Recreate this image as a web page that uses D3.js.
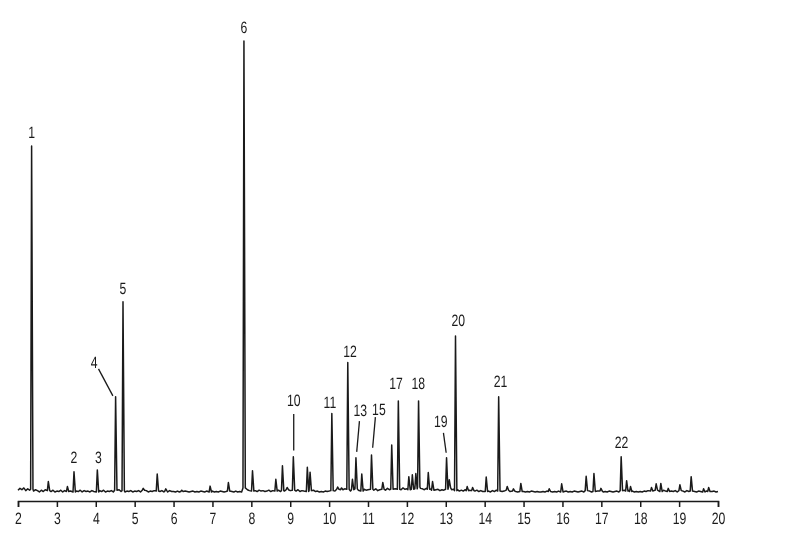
<!DOCTYPE html>
<html>
<head>
<meta charset="utf-8">
<script src="https://cdn.jsdelivr.net/npm/d3@7"></script>
<style>
	body { margin: 0; background: #fff; }
	svg { filter: grayscale(1); }
	.lbl, .tick text { font-family: "Liberation Sans", Arial, sans-serif; font-size: 16.5px; fill: #1a1a1a; text-rendering: geometricPrecision; }
</style>
</head>
<body>
<div class="g-chart-container"></div>
<script>
// retention time (min) and height (% of peak 6) of every spike on the trace
var peakTimes = [2.35, 2.78, 3.27, 3.44, 4.04, 4.51, 4.70, 5.22, 5.58, 5.80, 6.21, 6.94, 7.41, 7.81,
	8.03, 8.63, 8.80, 8.92, 9.08, 9.44, 9.51, 10.07, 10.22, 10.32, 10.48, 10.60, 10.69, 10.84,
	11.09, 11.38, 11.61, 11.78, 12.05, 12.14, 12.23, 12.30, 12.55, 12.66, 13.02, 13.09, 13.25,
	13.55, 13.69, 14.04, 14.36, 14.58, 14.74, 14.93, 15.66, 15.98, 16.61, 16.81, 16.99, 17.51,
	17.65, 17.75, 18.29, 18.41, 18.53, 18.72, 19.02, 19.31, 19.63, 19.76];
var peakHeights = [76.7, 2.3, 1.2, 4.5, 4.9, 21.1, 42.2, 0.8, 4.0, 0.7, 0.4, 1.3, 2.1, 100,
	4.7, 2.8, 5.8, 1.0, 7.8, 5.5, 4.4, 17.4, 1.1, 0.9, 28.7, 2.8, 7.6, 4.0,
	8.2, 2.1, 10.4, 20.2, 3.4, 3.8, 4.1, 20.2, 4.3, 2.3, 7.6, 2.7, 34.6,
	1.2, 1.0, 3.3, 21.1, 1.2, 0.7, 1.9, 0.7, 1.8, 3.5, 4.1, 0.8, 7.8,
	2.5, 1.2, 1.0, 1.8, 1.9, 0.8, 1.6, 3.4, 0.7, 1.0];

// baseline noise, one reading every 0.05 min from 2.0 to 20.0
var baselineStart = 2, baselineStep = 0.05;
var baseline = [
	0.4,0.8,0.5,0.9,0.3,0.7,0.4,0.6,0.2,0.5,0.3,0.0,0.4,0.1,0.5,0.0,0.3,0.1,0.4,0.0,
	0.2,0.1,0.4,0.0,0.3,0.1,0.5,0.2,0.3,0.0,0.2,0.1,0.4,0.0,0.3,0.1,0.2,0.0,0.3,0.1,
	0.2,0.0,0.3,0.1,0.4,0.0,0.2,0.1,0.3,0.0,0.4,0.2,0.5,0.1,0.3,0.0,0.2,0.1,0.3,0.0,
	0.2,0.1,0.3,0.0,0.4,0.2,0.3,0.0,0.2,0.1,0.3,0.0,0.2,0.1,0.3,0.0,0.2,0.0,0.3,0.1,
	0.1,0.0,0.2,0.0,0.1,0.0,0.2,0.1,0.0,0.1,0.2,0.0,0.1,0.0,0.2,0.1,0.0,0.2,0.1,0.0,
	0.2,0.0,0.1,0.0,0.2,0.1,0.0,0.1,0.2,0.0,0.1,0.0,0.2,0.0,0.1,0.0,0.9,0.6,0.5,0.3,
	0.4,0.2,0.3,0.1,0.4,0.2,0.3,0.1,0.2,0.4,0.1,0.3,0.5,0.2,0.4,0.1,0.3,0.2,0.5,0.1,
	0.3,0.1,0.4,0.2,0.5,0.1,0.3,0.2,0.4,0.1,0.3,0.0,0.4,0.1,0.2,0.0,0.1,0.0,0.2,0.1,
	0.2,0.3,0.5,0.2,0.6,0.3,0.5,0.4,0.7,0.3,0.6,0.2,0.5,0.3,0.7,0.4,0.5,0.2,0.6,0.4,
	0.5,0.3,0.6,0.4,0.7,0.3,0.5,0.2,0.6,0.4,0.8,0.5,0.6,0.3,0.7,0.4,0.6,0.5,0.9,0.6,
	0.7,0.5,0.9,0.6,1.0,0.7,1.1,0.8,0.7,0.5,0.8,0.6,0.7,0.4,0.8,0.5,0.6,0.3,0.5,0.4,
	0.6,0.8,0.9,0.5,0.6,0.3,0.5,0.2,0.4,0.2,0.5,0.3,0.4,0.1,0.3,0.2,0.4,0.1,0.3,0.1,
	0.3,0.1,0.2,0.0,0.3,0.1,0.4,0.2,0.3,0.1,0.2,0.0,0.4,0.1,0.3,0.2,0.1,0.0,0.2,0.1,
	0.1,0.0,0.1,0.0,0.2,0.1,0.0,0.1,0.0,0.0,0.1,0.0,0.2,0.1,0.0,0.0,0.1,0.0,0.2,0.0,
	0.0,0.1,0.2,0.0,0.1,0.0,0.2,0.1,0.0,0.1,0.2,0.0,0.3,0.1,0.2,0.0,0.1,0.0,0.2,0.1,
	0.2,0.0,0.1,0.0,0.2,0.1,0.0,0.1,0.2,0.0,0.3,0.1,0.4,0.2,0.3,0.1,0.2,0.0,0.1,0.0,
	0.1,0.0,0.2,0.1,0.3,0.0,0.2,0.3,0.4,0.2,0.3,0.1,0.4,0.2,0.1,0.0,0.2,0.1,0.3,0.0,
	0.3,0.1,0.2,0.0,0.3,0.1,0.2,0.0,0.1,0.0,0.2,0.1,0.3,0.0,0.2,0.1,0.0,0.1,0.2,0.0,
	0.1];

// numbered peaks: label anchor (time, signal level of text baseline)
var peakLabels = [
	{name: "1", t: 2.35, y: 78.4},
	{name: "2", t: 3.44, y: 6.4},
	{name: "3", t: 4.07, y: 6.4},
	{name: "4", t: 3.96, y: 27.6},
	{name: "5", t: 4.70, y: 43.9},
	{name: "6", t: 7.81, y: 101.7},
	{name: "10", t: 9.09, y: 19.1},
	{name: "11", t: 10.02, y: 18.6},
	{name: "12", t: 10.54, y: 30.0},
	{name: "13", t: 10.80, y: 16.9},
	{name: "15", t: 11.28, y: 17.1},
	{name: "17", t: 11.72, y: 22.8},
	{name: "18", t: 12.29, y: 22.8},
	{name: "19", t: 12.87, y: 14.3},
	{name: "20", t: 13.32, y: 36.7},
	{name: "21", t: 14.41, y: 23.3},
	{name: "22", t: 17.52, y: 9.7}
];
// leader lines from label to peak
var leaders = [
	{from: [4.07, 27.3], to: [4.44, 21.3]},
	{from: [9.09, 17.3], to: [9.09, 9.2]},
	{from: [10.78, 15.7], to: [10.71, 8.9]},
	{from: [11.19, 16.6], to: [11.12, 9.8]},
	{from: [12.94, 13.1], to: [13.01, 8.7]}
];
var xTicks = d3.range(2, 21);

var W = 789, H = 554;
var narrow = 0.74; // squeeze text to look like a condensed face

var svg = d3.select(".g-chart-container")
	.append("svg")
	.attr("width", W)
	.attr("height", H);

var x = d3.scaleLinear().domain([2, 20]).range([18, 718]);
var y = d3.scaleLinear().domain([-2, 100]).range([501, 41]);

// build the trace: baseline readings plus a spike for each peak
function baseAt(t) {
	var i = Math.round((t - baselineStart) / baselineStep);
	return baseline[Math.max(0, Math.min(baseline.length - 1, i))];
}
var trace = [];
baseline.forEach(function(v, i) {
	var t = baselineStart + i * baselineStep;
	var near = peakTimes.some(function(p) { return Math.abs(p - t) < 0.045; });
	if (!near) trace.push([t, v]);
});
peakTimes.forEach(function(p, i) {
	var b = baseAt(p);
	trace.push([p - 0.025, b]);
	trace.push([p, peakHeights[i]]);
	trace.push([p + 0.035, b]);
});
trace.sort(function(a, b) { return a[0] - b[0]; });

var line = d3.line()
	.x(function(d) { return x(d[0]); })
	.y(function(d) { return y(d[1]); });

svg.append("path")
	.datum(trace)
	.attr("d", line)
	.attr("fill", "none")
	.attr("stroke", "#1a1a1a")
	.attr("stroke-width", 1.5)
	.attr("stroke-linejoin", "round");

// x axis
var axis = svg.append("g")
	.attr("transform", "translate(0," + y(-2) + ")")
	.call(d3.axisBottom(x).tickValues(xTicks).tickSize(6).tickFormat(d3.format("d")));
axis.attr("font-size", null).attr("font-family", null);
axis.selectAll("path, line").attr("stroke", "#1a1a1a").attr("stroke-width", 1.5);
axis.selectAll("text")
	.attr("y", null).attr("dy", null)
	.attr("fill", "#1a1a1a")
	.attr("transform", "translate(0,23) scale(" + narrow + ",1)");

// leaders
svg.selectAll(".leader")
	.data(leaders)
	.enter()
	.append("line")
	.attr("class", "leader")
	.attr("x1", function(d) { return x(d.from[0]); })
	.attr("y1", function(d) { return y(d.from[1]); })
	.attr("x2", function(d) { return x(d.to[0]); })
	.attr("y2", function(d) { return y(d.to[1]); })
	.attr("stroke", "#1a1a1a")
	.attr("stroke-width", 1.3);

// peak numbers
svg.selectAll(".lbl")
	.data(peakLabels)
	.enter()
	.append("text")
	.attr("class", "lbl")
	.attr("transform", function(d) {
		return "translate(" + x(d.t) + "," + y(d.y) + ") scale(" + narrow + ",1)";
	})
	.attr("text-anchor", "middle")
	.text(function(d) { return d.name; });
</script>
</body>
</html>
